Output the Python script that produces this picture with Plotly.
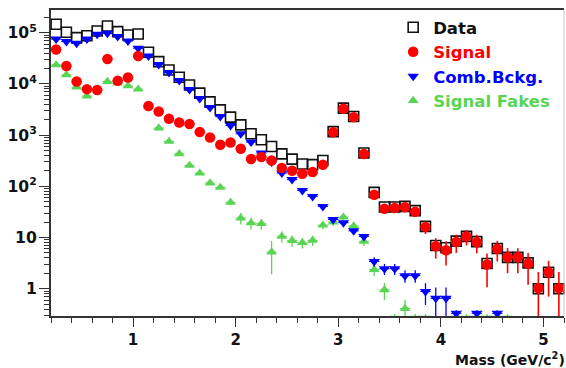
import plotly.graph_objects as go

# Bin centres of the invariant-mass histogram (GeV/c^2), 0.1 wide bins
mass = [0.25, 0.35, 0.45, 0.55, 0.65, 0.75, 0.85, 0.95, 1.05, 1.15,
        1.25, 1.35, 1.45, 1.55, 1.65, 1.75, 1.85, 1.95, 2.05, 2.15,
        2.25, 2.35, 2.45, 2.55, 2.65, 2.75, 2.85, 2.95, 3.05, 3.15,
        3.25, 3.35, 3.45, 3.55, 3.65, 3.75, 3.85, 3.95, 4.05, 4.15,
        4.25, 4.35, 4.45, 4.55, 4.65, 4.75, 4.85, 4.95, 5.05, 5.15]
half_bin = [0.05] * len(mass)

data_counts = [1.46e5, 1.02e5, 8.0e4, 8.7e4, 1.08e5, 1.35e5, 1.05e5, 9.0e4, 9.4e4, 4.15e4,
               2.72e4, 1.87e4, 1.35e4, 9.5e3, 6.6e3, 4460, 3110, 2240, 1580, 1060,
               810, 600, 430, 340, 272, 265, 320, 1170, 3360, 2300,
               447, 76, 39.5, 39.5, 40.5, 33.5, 16.5, 7.0, 6.3, 8.5,
               10.5, 8.3, 3.1, 6.1, 4.1, 4.1, 3.2, 1.0, 2.1, 1.0]

signal = [4.7e4, 2.24e4, 1.11e4, 7.9e3, 7.6e3, 3.07e4, 1.15e4, 1.33e4, 3.5e4, 3.7e3,
          2.9e3, 2.08e3, 1.76e3, 1.64e3, 1.15e3, 897, 646, 718, 541, 340,
          373, 320, 228, 201, 176, 190, 263, 1140, 3260, 2240,
          427, 68.5, 36.5, 37.7, 38.9, 31.7, 16.1, 6.76, 5.63, 8.2,
          10.5, 8.1, 2.97, 6.0, 4.1, 4.1, 3.1, 1.02, 2.1, 1.02]
signal_err = [420, 350, 310, 320, 360, 400, 350, 330, 330, 220,
              180, 150, 125, 105, 88, 73, 61, 51, 43, 36,
              31, 27, 23, 20, 18, 18, 19, 36, 60, 50,
              23, 9.5, 6.8, 6.8, 6.9, 6.3, 4.4, 2.9, 2.8, 3.2,
              3.5, 3.2, 1.9, 2.6, 2.1, 2.1, 1.9, 1.1, 1.4, 1.1]

comb_bkg = [7.5e4, 6.7e4, 6.2e4, 7.5e4, 9.3e4, 9.7e4, 8.4e4, 6.9e4, 4.97e4, 3.5e4,
            2.4e4, 1.66e4, 1.16e4, 7.8e3, 5.2e3, 3450, 2300, 1540, 1060, 730,
            446, 298, 182, 135, 83, 63.5, 40.5, 22.5, 19.5, 13.5,
            10.5, 3.4, 2.45, 2.45, 1.8, 1.8, 0.88, 0.65, 0.65, 0.33,
            None, 0.33, None, 0.33, None, None, None, None, None, None]
comb_err = [95, 90, 85, 95, 105, 110, 100, 90, 78, 65,
            54, 45, 38, 31, 25, 21, 17, 14, 11.5, 9.5,
            7.5, 6, 4.8, 4.1, 3.2, 2.8, 2.2, 1.7, 1.6, 1.3,
            1.2, 0.7, 0.6, 0.6, 0.5, 0.5, 0.4, 0.4, 0.4, 0.05,
            None, 0.05, None, 0.05, None, None, None, None, None, None]

signal_fakes = [2.35e4, 1.5e4, 8.6e3, 5.8e3, 7.5e3, 1.11e4, 1.03e4, 9.1e3, 7.9e3, 3.6e3,
                1.37e3, 750, 430, 255, 180, 116, 95, 48.5, 24, 19.3,
                18.6, 5.2, 10.5, 8.7, 7.9, 8.8, 17.4, 20, 25, 16.7,
                8.4, 2.37, 0.95, 0.29, 0.41, 0.29, 0.29, None, None, 0.29,
                0.29, 0.29, 0.29, 0.29, 0.29, None, None, None, None, None]
fakes_err = [70, 55, 42, 35, 40, 48, 46, 43, 40, 28,
             17, 13, 10, 8, 7, 6.5, 6.5, 5.5, 6, 5,
             4.5, 3.3, 2.6, 2.2, 1.8, 2.0, 3.0, 3.2, 3.6, 2.8,
             1.6, 0.6, 0.35, 0.03, 0.2, 0.03, 0.03, None, None, 0.03,
             0.03, 0.03, 0.03, 0.03, 0.03, None, None, None, None, None]

BLACK = "#111111"
RED = "#ff0000"
BLUE = "#0000ff"
GREEN = "#59d454"
FONT = "DejaVu Sans"

fig = go.Figure()

fig.add_trace(go.Scatter(
    x=mass, y=data_counts, mode="markers", name="Data", legendrank=1,
    marker=dict(symbol="square-open", size=10, color=BLACK, line=dict(width=1.6, color=BLACK)),
    cliponaxis=False,
))

fig.add_trace(go.Scatter(
    x=mass, y=signal_fakes, mode="markers", legendrank=4,
    name=f'<span style="color:{GREEN}">Signal Fakes</span>',
    marker=dict(symbol="triangle-up", size=9.5, color=GREEN),
    error_y=dict(type="data", array=fakes_err, color=GREEN, thickness=1.3, width=0),
    error_x=dict(type="data", array=half_bin, color=GREEN, thickness=1, width=0),
    cliponaxis=False,
))

fig.add_trace(go.Scatter(
    x=mass, y=comb_bkg, mode="markers", legendrank=3,
    name=f'<span style="color:{BLUE}">Comb.Bckg.</span>',
    marker=dict(symbol="triangle-down", size=10, color=BLUE),
    error_y=dict(type="data", array=comb_err, color=BLUE, thickness=1.3, width=0),
    error_x=dict(type="data", array=half_bin, color=BLUE, thickness=1, width=0),
))

fig.add_trace(go.Scatter(
    x=mass, y=signal, mode="markers", legendrank=2,
    name=f'<span style="color:{RED}">Signal</span>',
    marker=dict(symbol="circle", size=10.5, color=RED),
    error_y=dict(type="data", array=signal_err, color=RED, thickness=1.6, width=0),
    error_x=dict(type="data", array=half_bin, color=RED, thickness=1, width=0),
))

axis_line = "#333333"

fig.update_layout(
    width=566, height=368,
    margin=dict(l=51, r=2, t=10, b=52),
    paper_bgcolor="white", plot_bgcolor="white",
    showlegend=True,
    legend=dict(
        x=0.667, xanchor="left", y=1.0, yanchor="top",
        bgcolor="rgba(0,0,0,0)", borderwidth=0,
        font=dict(family=FONT, size=16.5, color=BLACK, weight="bold"),
        itemclick=False, itemdoubleclick=False,
    ),
    xaxis=dict(
        range=[0.2, 5.2], tickmode="linear", tick0=0, dtick=1,
        ticks="outside", ticklen=9, tickwidth=1, tickcolor=axis_line,
        showline=True, linecolor=axis_line, linewidth=1.5, mirror=True,
        showgrid=False, zeroline=False,
        tickfont=dict(family=FONT, size=15, color=BLACK, weight="bold"),
        minor=dict(tick0=0, dtick=0.2, ticks="outside", ticklen=5,
                   tickwidth=1, tickcolor=axis_line, showgrid=False),
    ),
    yaxis=dict(
        type="log", range=[-0.533, 5.443], tickmode="linear", tick0=0, dtick=1,
        exponentformat="power",
        ticks="outside", ticklen=10, tickwidth=1, tickcolor=axis_line,
        showline=True, linecolor=axis_line, linewidth=1.5,
        showgrid=False, zeroline=False,
        tickfont=dict(family=FONT, size=12.5, color=BLACK, weight="bold"),
        minor=dict(dtick="D1", ticks="outside", ticklen=5,
                   tickwidth=1, tickcolor=axis_line, showgrid=False),
    ),
    shapes=[dict(type="line", xref="paper", yref="paper", x0=1, x1=1, y0=0, y1=1,
                 line=dict(color="#c8c8c8", width=1))],
    annotations=[dict(
        text="Mass (GeV/c<sup>2</sup>)", xref="paper", yref="paper",
        x=1, y=0, xanchor="right", yanchor="middle", xshift=3, yshift=-43,
        showarrow=False,
        font=dict(family=FONT, size=14, color=BLACK, weight="bold"),
    )],
)

fig.write_html("out.html")
